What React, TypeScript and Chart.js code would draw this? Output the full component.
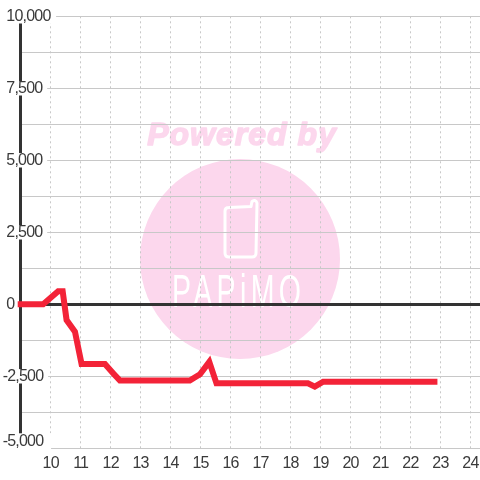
import React, { useEffect, useRef } from "react";
import { Chart, registerables } from "chart.js";

Chart.register(...registerables);

const hours = [8.9, 9.75, 10.25, 10.4, 10.53, 10.81, 11.03, 11.81, 12.09, 12.31, 14.64, 14.98, 15.29, 15.53, 18.58, 18.81, 19.09, 22.9];
const balance = [0, 0, 450, 450, -545, -950, -2070, -2070, -2400, -2650, -2650, -2430, -2000, -2745, -2745, -2860, -2690, -2690];
const labelledValues = [10000, 7500, 5000, 2500, 0, -2500];
const bottomLabel = -5000;

const TEXT = "#3a3a3a";
const PINK = "#fcd7ed";
const SPACING = "-0.8px";

const watermark = {
  id: "watermark",
  beforeDraw(chart: any) {
    const ctx = chart.ctx;
    ctx.save();
    ctx.fillStyle = PINK;
    ctx.strokeStyle = PINK;
    ctx.lineWidth = 1.5;
    ctx.lineJoin = "round";
    ctx.letterSpacing = "1px";
    ctx.font = "italic bold 32px 'Liberation Sans'";
    ctx.textAlign = "center";
    ctx.textBaseline = "alphabetic";
    ctx.strokeText("Powered by", 242, 145);
    ctx.fillText("Powered by", 242, 145);
    ctx.letterSpacing = "0px";
    ctx.beginPath();
    ctx.arc(240, 259, 100, 0, Math.PI * 2);
    ctx.fill();
    ctx.strokeStyle = "#ffffff";
    ctx.lineWidth = 3;
    ctx.lineCap = "round";
    ctx.beginPath();
    ctx.moveTo(229, 207.5);
    ctx.lineTo(251, 206.5);
    ctx.lineTo(252, 201.5);
    ctx.quadraticCurveTo(256, 199, 257, 203);
    ctx.lineTo(256, 253);
    ctx.quadraticCurveTo(256, 257, 252, 257);
    ctx.lineTo(229, 257);
    ctx.quadraticCurveTo(225, 257, 225, 253);
    ctx.lineTo(225, 211);
    ctx.quadraticCurveTo(225, 207.5, 229, 207.5);
    ctx.stroke();
    ctx.fillStyle = "#ffffff";
    ctx.font = "46px 'Liberation Sans'";
    ctx.textAlign = "left";
    ctx.translate(172, 307);
    ctx.scale(0.62, 1);
    ctx.letterSpacing = "7px";
    ctx.fillText("PAPiMO", 0, 0);
    ctx.restore();
    ctx.letterSpacing = SPACING;
  },
};

export default function App() {
  const ref = useRef<HTMLCanvasElement | null>(null);
  useEffect(() => {
    const canvas = ref.current!;
    const ctx: any = canvas.getContext("2d");
    ctx.letterSpacing = SPACING;
    const chart = new Chart(canvas, {
      type: "line",
      data: {
        datasets: [
          {
            data: hours.map((x, i) => ({ x, y: balance[i] })),
            borderColor: "#f32338",
            borderWidth: 6,
            pointRadius: 0,
            tension: 0,
            fill: false,
            clip: false,
            borderCapStyle: "butt",
            borderJoinStyle: "miter",
            xAxisID: "x",
            yAxisID: "y",
          },
        ],
      },
      options: {
        responsive: false,
        animation: false,
        devicePixelRatio: 1,
        layout: { padding: { top: 16.3, left: 0, right: 0, bottom: 0 } },
        plugins: { legend: { display: false }, tooltip: { enabled: false }, title: { display: false } },
        scales: {
          x: {
            type: "linear",
            min: 9,
            max: 24.32,
            afterFit(scale: any) {
              scale.height = 31.7;
              scale.paddingLeft = 0;
              scale.paddingRight = 0;
            },
            border: { display: false, dash: [2, 3] },
            grid: { color: "#c8c8c8", lineWidth: 1, drawTicks: false },
            ticks: {
              stepSize: 1,
              includeBounds: false,
              autoSkip: false,
              maxRotation: 0,
              padding: 6,
              color: TEXT,
              font: { family: "'Liberation Sans'", size: 16 },
              callback: (v: any) => (v >= 10 ? String(v) : ""),
            },
          },
          y: {
            type: "linear",
            min: -5000,
            max: 10000,
            weight: 1,
            afterFit(scale: any) {
              scale.width = 20.7;
              scale.paddingTop = 0;
              scale.paddingBottom = 0;
            },
            border: { display: true, color: "#333333", width: 3 },
            grid: {
              color: (c: any) => (c.tick && c.tick.value === 0 ? "#333333" : "#c8c8c8"),
              lineWidth: (c: any) => (c.tick && c.tick.value === 0 ? 3 : 1),
              drawTicks: false,
            },
            ticks: {
              stepSize: 1250,
              autoSkip: false,
              mirror: true,
              crossAlign: "near",
              padding: -18,
              color: TEXT,
              font: { family: "'Liberation Sans'", size: 16, lineHeight: 0.9 },
              showLabelBackdrop: true,
              backdropPadding: 0,
              backdropColor: (c: any) =>
                c.tick && labelledValues.includes(c.tick.value) ? "#ffffff" : "rgba(255,255,255,0)",
              callback: (v: any) => {
                if (!labelledValues.includes(v)) return "";
                const text = Number(v).toLocaleString("en-US");
                return v < 0 ? text : " " + text;
              },
            },
          },
          // carries only the bottom tick label, which sits a little above its gridline
          yBottom: {
            type: "linear",
            position: "left",
            min: -5243,
            max: 9757,
            weight: 2,
            afterBuildTicks(scale: any) {
              scale.ticks = [{ value: bottomLabel }];
            },
            afterFit(scale: any) {
              scale.width = 0;
              scale.paddingTop = 0;
              scale.paddingBottom = 0;
            },
            border: { display: false },
            grid: { display: false, drawTicks: false },
            ticks: {
              autoSkip: false,
              mirror: true,
              crossAlign: "near",
              padding: 2.7,
              color: TEXT,
              font: { family: "'Liberation Sans'", size: 16, lineHeight: 1 },
              showLabelBackdrop: true,
              backdropPadding: { top: 0, bottom: 0, left: 0, right: 3 },
              backdropColor: "#ffffff",
              callback: (v: any) => Number(v).toLocaleString("en-US"),
            },
          },
        },
      },
      plugins: [watermark],
    } as any);
    return () => chart.destroy();
  }, []);
  return (
    <div style={{ position: "absolute", left: 0, top: 0, width: 480, height: 480 }}>
      <canvas ref={ref} width={480} height={480} style={{ display: "block", width: 480, height: 480 }} />
    </div>
  );
}
